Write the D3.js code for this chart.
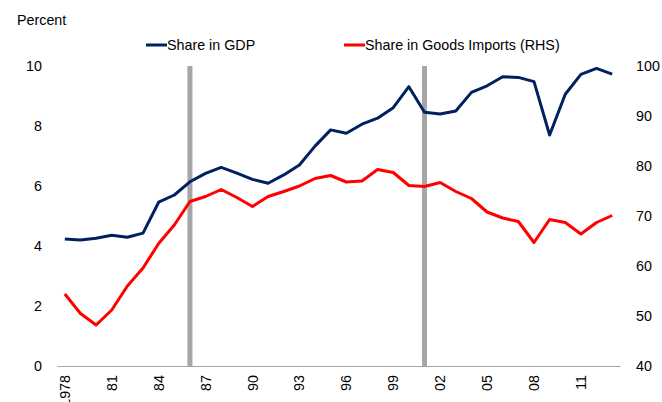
<!DOCTYPE html>
<html>
<head>
<meta charset="utf-8">
<script src="https://cdn.jsdelivr.net/npm/d3@7"></script>
<style>
  body { margin: 0; background: #fff; }
  text { font-family: "Liberation Sans", Arial, sans-serif; font-size: 14.3px; fill: #000; }
</style>
</head>
<body>
<script>
var width = 662, height = 402;

// data
const years = d3.range(1978, 2014);
const gdpShare = [4.23, 4.2, 4.26, 4.36, 4.29, 4.43, 5.46, 5.7, 6.14, 6.42, 6.62, 6.43, 6.22, 6.09, 6.37, 6.7,
  7.33, 7.87, 7.76, 8.06, 8.26, 8.61, 9.31, 8.46, 8.4, 8.5, 9.12, 9.34, 9.64, 9.62, 9.48, 7.7, 9.06, 9.72, 9.92, 9.73];
const importShare = [54.4, 50.5, 48.2, 51.2, 56.0, 59.6, 64.5, 68.2, 72.9, 73.9, 75.3, 73.7, 71.9, 73.9, 74.9, 76.0,
  77.5, 78.1, 76.8, 77.0, 79.3, 78.7, 76.1, 75.9, 76.7, 74.9, 73.5, 70.8, 69.6, 68.9, 64.7, 69.3, 68.7, 66.4, 68.7, 70.1];
const markerYears = [1986, 2001];
const leftTicks = [0, 2, 4, 6, 8, 10];
const rightTicks = [40, 50, 60, 70, 80, 90, 100];
const xTickYears = d3.range(1978, 2014, 3);

const margin = {left: 57, right: 42, top: 66, bottom: 36};

var svg = d3.select("body")
  .append("svg")
  .attr("width", width)
  .attr("height", height);

const x = d3.scaleBand()
  .domain(years)
  .range([margin.left, width - margin.right]);
const xc = d => x(d) + x.bandwidth() / 2;

const yL = d3.scaleLinear().domain([0, 10]).range([height - margin.bottom, margin.top]);
const yR = d3.scaleLinear().domain([40, 100]).range([height - margin.bottom, margin.top]);

// marker bars
svg.selectAll(".marker")
  .data(markerYears)
  .join("line")
    .attr("x1", d => xc(d))
    .attr("x2", d => xc(d))
    .attr("y1", yL(10))
    .attr("y2", yL(0))
    .attr("stroke", "#A6A6A6")
    .attr("stroke-width", 5);

// left axis
const gL = svg.append("g")
  .attr("transform", `translate(${margin.left - 15},0)`)
  .call(d3.axisLeft(yL).tickValues(leftTicks).tickSize(0).tickPadding(0));
gL.select(".domain").remove();

// right axis
const gR = svg.append("g")
  .attr("transform", `translate(${width - margin.right + 16},0)`)
  .call(d3.axisRight(yR).tickValues(rightTicks).tickSize(0).tickPadding(0));
gR.select(".domain").remove();

// x axis
const gX = svg.append("g")
  .attr("transform", `translate(0,${height - margin.bottom})`)
  .call(d3.axisBottom(x).tickValues(xTickYears).tickSize(0)
    .tickFormat(d => d === 1978 ? "1978" : String(d).slice(2)));
gX.select(".domain").attr("stroke", "#A6A6A6").attr("stroke-width", 1);
gX.selectAll("text")
  .attr("transform", "rotate(-90)")
  .attr("text-anchor", "end")
  .attr("x", -9)
  .attr("y", 0)
  .attr("dy", "0.35em");

svg.selectAll(".tick text").style("font-size", "14.3px").style("font-family", '"Liberation Sans", Arial, sans-serif').attr("fill", "#000");

// lines
const lineL = d3.line().x((d, i) => xc(years[i])).y(d => yL(d));
const lineR = d3.line().x((d, i) => xc(years[i])).y(d => yR(d));

svg.append("path")
  .datum(importShare)
  .attr("d", lineR)
  .attr("fill", "none")
  .attr("stroke", "#FF0000")
  .attr("stroke-width", 3)
  .attr("stroke-linejoin", "round");

svg.append("path")
  .datum(gdpShare)
  .attr("d", lineL)
  .attr("fill", "none")
  .attr("stroke", "#002060")
  .attr("stroke-width", 3)
  .attr("stroke-linejoin", "round");

// axis title
svg.append("text").attr("x", 17).attr("y", 25).text("Percent");

// legend
const legend = [
  {label: "Share in GDP", color: "#002060", x: 146},
  {label: "Share in Goods Imports (RHS)", color: "#FF0000", x: 344}
];
const lg = svg.selectAll(".legend").data(legend).join("g")
  .attr("transform", d => `translate(${d.x},45)`);
lg.append("line").attr("x1", 0).attr("x2", 21).attr("stroke", d => d.color).attr("stroke-width", 3);
lg.append("text").attr("x", 21).attr("dy", "0.35em").text(d => d.label);
</script>
</body>
</html>
